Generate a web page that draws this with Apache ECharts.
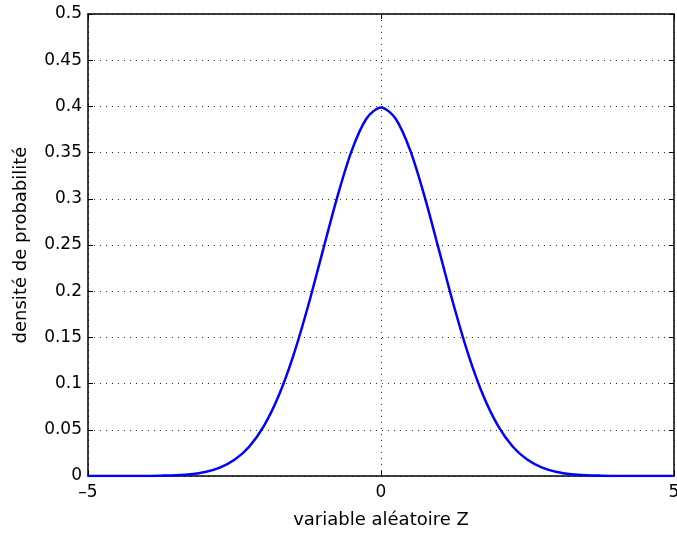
<!DOCTYPE html>
<html>
<head>
<meta charset="utf-8">
<script src="https://cdn.jsdelivr.net/npm/echarts@6/dist/echarts.min.js"></script>
<style>
  html, body { margin: 0; padding: 0; background: #fff; }
  #chart { width: 677px; height: 534px; }
</style>
</head>
<body>
<div id="chart"></div>
<script>
// valeurs (densite de la loi normale centree reduite)
const zValues = [-5, -4.75, -4.5, -4.25, -4, -3.75, -3.5, -3.25, -3, -2.75, -2.5, -2.25, -2, -1.75, -1.5, -1.25, -1, -0.75, -0.5, -0.25,
    0, 0.25, 0.5, 0.75, 1, 1.25, 1.5, 1.75, 2, 2.25, 2.5, 2.75, 3, 3.25, 3.5, 3.75, 4, 4.25, 4.5, 4.75, 5];
const densityValues = [0, 0, 0, 0.0001, 0.0001, 0.0004, 0.0009, 0.0020, 0.0044, 0.0091, 0.0175, 0.0317, 0.0540, 0.0863, 0.1295, 0.1826, 0.2420, 0.3011, 0.3521, 0.3867,
    0.3989, 0.3867, 0.3521, 0.3011, 0.2420, 0.1826, 0.1295, 0.0863, 0.0540, 0.0317, 0.0175, 0.0091, 0.0044, 0.0020, 0.0009, 0.0004, 0.0001, 0.0001, 0, 0, 0];
const xTicks = [-5, 0, 5];
const yTicks = [0, 0.05, 0.1, 0.15, 0.2, 0.25, 0.3, 0.35, 0.4, 0.45, 0.5];

const font = '"DejaVu Sans", sans-serif';
const chart = echarts.init(document.getElementById('chart'));

function minus(v) {
    return String(v).replace('-', '\u2013');
}

const dotted = { show: true, lineStyle: { color: '#333', type: [1, 5], width: 1 } };
const tick = { show: true, inside: true, length: 5, lineStyle: { color: '#000' } };
const frame = { show: true, onZero: false, lineStyle: { color: '#000', width: 1.5 } };

chart.setOption({
    animation: false,
    grid: { left: 88, right: 3, top: 14, bottom: 58, containLabel: false, outerBoundsMode: 'none' },
    xAxis: [{
        type: 'value',
        min: xTicks[0],
        max: xTicks[xTicks.length - 1],
        interval: 5,
        name: 'variable aléatoire Z',
        nameLocation: 'middle',
        nameGap: 35,
        nameTextStyle: { fontFamily: font, fontSize: 18, color: '#000' },
        axisLine: frame,
        axisTick: tick,
        axisLabel: { fontFamily: font, fontSize: 17, color: '#000', margin: 8, formatter: minus },
        splitLine: dotted
    }, {
        type: 'value',
        position: 'top',
        min: xTicks[0],
        max: xTicks[xTicks.length - 1],
        interval: 5,
        axisLine: frame,
        axisTick: tick,
        axisLabel: { show: false },
        splitLine: { show: false }
    }],
    yAxis: [{
        type: 'value',
        min: yTicks[0],
        max: yTicks[yTicks.length - 1],
        interval: 0.05,
        name: 'densité de probabilité',
        nameLocation: 'middle',
        nameGap: 58,
        nameTextStyle: { fontFamily: font, fontSize: 18, color: '#000' },
        axisLine: frame,
        axisTick: tick,
        axisLabel: { fontFamily: font, fontSize: 17, color: '#000', margin: 6 },
        splitLine: dotted
    }, {
        type: 'value',
        position: 'right',
        min: yTicks[0],
        max: yTicks[yTicks.length - 1],
        interval: 0.05,
        axisLine: frame,
        axisTick: tick,
        axisLabel: { show: false },
        splitLine: { show: false }
    }],
    series: [{
        type: 'line',
        data: zValues.map((z, i) => [z, densityValues[i]]),
        showSymbol: false,
        smooth: 0.3,
        lineStyle: { color: '#0000ff', width: 2.5 },
        z: 5
    }]
});
</script>
</body>
</html>
